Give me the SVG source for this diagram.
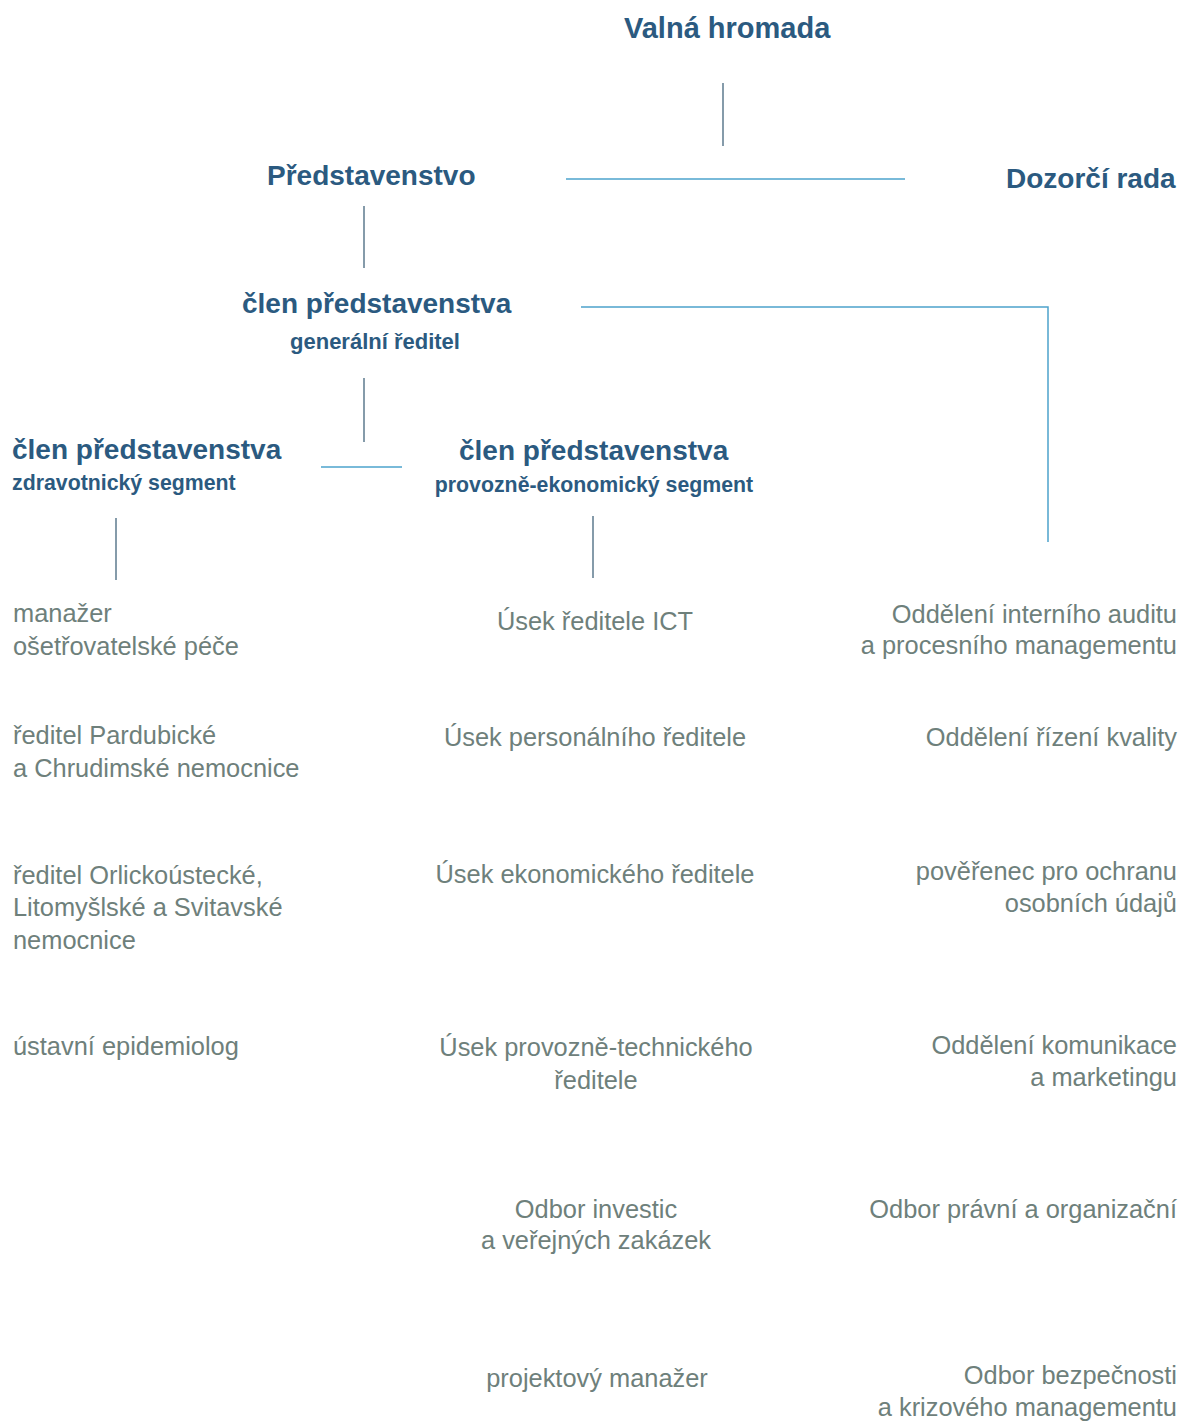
<svg xmlns="http://www.w3.org/2000/svg" width="1183" height="1421" viewBox="0 0 1183 1421">
<style>
.h{font-family:"Liberation Sans",Arial,sans-serif;font-weight:bold;font-size:28px;fill:#2b5a80}
.s{font-family:"Liberation Sans",Arial,sans-serif;font-weight:bold;font-size:21.3px;fill:#2b5a80}
.t{font-family:"Liberation Sans",Arial,sans-serif;font-size:25.4px;fill:#6e807b}
.m{text-anchor:middle}
.e{text-anchor:end}
.v{stroke:#5d7a8e;stroke-width:1.5;fill:none}
.l{stroke:#4da3cc;stroke-width:1.5;fill:none}
</style>
<rect width="1183" height="1421" fill="#ffffff"/>
<g id="connectors">
<line class="v" x1="723" y1="83" x2="723" y2="146"/>
<line class="l" x1="566" y1="179" x2="905" y2="179"/>
<line class="v" x1="364" y1="206" x2="364" y2="268"/>
<polyline class="l" points="581,307 1048,307 1048,542"/>
<line class="v" x1="364" y1="378" x2="364" y2="442"/>
<line class="l" x1="321" y1="467" x2="402" y2="467"/>
<line class="v" x1="116" y1="518" x2="116" y2="580"/>
<line class="v" x1="593" y1="516" x2="593" y2="578"/>
</g>
<g id="valna-hromada"><text class="h" x="624" y="38" style="font-size:29px">Valná hromada</text></g>
<g id="predstavenstvo"><text class="h" x="267" y="185">Představenstvo</text></g>
<g id="dozorci-rada"><text class="h" x="1006" y="188">Dozorčí rada</text></g>
<g id="generalni-reditel"><text class="h" x="242" y="313">člen představenstva</text><text class="s m" x="375" y="349" style="font-size:22px">generální ředitel</text></g>
<g id="zdravotnicky"><text class="h" x="12" y="459">člen představenstva</text><text class="s" x="12" y="490">zdravotnický segment</text></g>
<g id="provozne-ekonomicky"><text class="h" x="459" y="460">člen představenstva</text><text class="s m" x="594" y="492">provozně-ekonomický segment</text></g>
<g id="manazer-osetrovatelske"><text class="t" x="13" y="622">manažer</text><text class="t" x="13" y="655">ošetřovatelské péče</text></g>
<g id="reditel-pardubicke"><text class="t" x="13" y="744">ředitel Pardubické</text><text class="t" x="13" y="777">a Chrudimské nemocnice</text></g>
<g id="reditel-orlickoustecke"><text class="t" x="13" y="884">ředitel Orlickoústecké,</text><text class="t" x="13" y="916">Litomyšlské a Svitavské</text><text class="t" x="13" y="949">nemocnice</text></g>
<g id="epidemiolog"><text class="t" x="13" y="1055">ústavní epidemiolog</text></g>
<g id="usek-ict"><text class="t m" x="595" y="630">Úsek ředitele ICT</text></g>
<g id="usek-personalni"><text class="t m" x="595" y="746">Úsek personálního ředitele</text></g>
<g id="usek-ekonomicky"><text class="t m" x="595" y="883">Úsek ekonomického ředitele</text></g>
<g id="usek-provozne-technicky"><text class="t m" x="596" y="1056">Úsek provozně-technického</text><text class="t m" x="596" y="1089">ředitele</text></g>
<g id="odbor-investic"><text class="t m" x="596" y="1218">Odbor investic</text><text class="t m" x="596" y="1249">a veřejných zakázek</text></g>
<g id="projektovy-manazer"><text class="t m" x="597" y="1387">projektový manažer</text></g>
<g id="interni-audit"><text class="t e" x="1177" y="623">Oddělení interního auditu</text><text class="t e" x="1177" y="654">a procesního managementu</text></g>
<g id="rizeni-kvality"><text class="t e" x="1177" y="746">Oddělení řízení kvality</text></g>
<g id="poverenec"><text class="t e" x="1177" y="880">pověřenec pro ochranu</text><text class="t e" x="1177" y="912">osobních údajů</text></g>
<g id="komunikace"><text class="t e" x="1177" y="1054">Oddělení komunikace</text><text class="t e" x="1177" y="1086">a marketingu</text></g>
<g id="pravni"><text class="t e" x="1177" y="1218">Odbor právní a organizační</text></g>
<g id="bezpecnost"><text class="t e" x="1177" y="1384">Odbor bezpečnosti</text><text class="t e" x="1177" y="1416">a krizového managementu</text></g>
</svg>
